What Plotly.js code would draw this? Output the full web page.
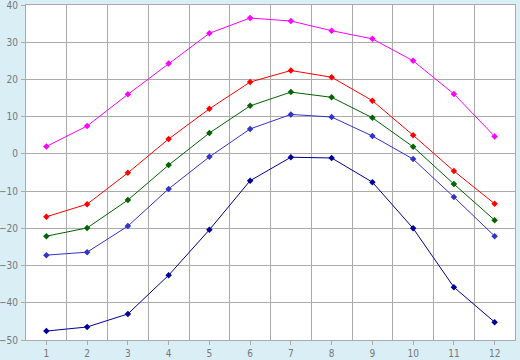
<!DOCTYPE html>
<html>
<head>
<meta charset="utf-8">
<script src="https://cdn.plot.ly/plotly-3.0.1.min.js"></script>
<style>html,body{margin:0;padding:0;background:#daeef6;}#chart{width:520px;height:360px;}</style>
</head>
<body>
<div id="chart"></div>
<script>
const months = [1,2,3,4,5,6,7,8,9,10,11,12];
const seriesMagenta = [2.0, 7.5, 16.0, 24.3, 32.4, 36.5, 35.7, 33.1, 30.9, 25.0, 16.1, 4.7];
const seriesRed = [-16.9, -13.5, -5.1, 4.0, 12.1, 19.3, 22.4, 20.6, 14.3, 5.0, -4.6, -13.4];
const seriesGreen = [-22.1, -19.9, -12.4, -3.0, 5.6, 12.9, 16.6, 15.2, 9.7, 1.9, -8.1, -17.8];
const seriesBlue = [-27.2, -26.4, -19.4, -9.4, -0.8, 6.7, 10.6, 9.9, 4.8, -1.4, -11.6, -22.1];
const seriesNavy = [-47.6, -46.5, -43.0, -32.6, -20.4, -7.2, -0.9, -1.1, -7.6, -20.0, -35.8, -45.2];

const defs = [
  {y: seriesMagenta, color: '#ff00ff'},
  {y: seriesRed, color: '#ff0000'},
  {y: seriesGreen, color: '#006400'},
  {y: seriesBlue, color: '#3333cc'},
  {y: seriesNavy, color: '#000099'}
];
const traces = defs.map(d => ({
  x: months, y: d.y, type: 'scatter', mode: 'lines+markers',
  line: {color: d.color, width: 1},
  marker: {color: d.color, size: 5, symbol: 'diamond'},
  showlegend: false, hoverinfo: 'skip'
}));

const layout = {
  width: 520, height: 360,
  margin: {l: 26, r: 5, t: 5, b: 20, pad: 0},
  paper_bgcolor: '#daeef6', plot_bgcolor: '#ffffff',
  font: {family: 'DejaVu Sans Condensed, DejaVu Sans, sans-serif', size: 10, color: '#777777'},
  xaxis: {
    range: [0.5, 12.5], tick0: 1, dtick: 1, showgrid: false, zeroline: false,
    ticks: 'outside', ticklen: 4, tickcolor: '#aaaaaa', ticklabeloverflow: 'allow',
    showline: true, mirror: true, linecolor: '#aaaaaa', linewidth: 1,
    minor: {tick0: 0.5, dtick: 1, showgrid: true, gridcolor: '#aaaaaa', gridwidth: 1, ticks: ''}
  },
  yaxis: {
    range: [-50, 40], dtick: 10, showgrid: true, gridcolor: '#aaaaaa', gridwidth: 1,
    zeroline: false, ticks: 'outside', ticklen: 4, tickcolor: '#aaaaaa',
    ticklabeloverflow: 'allow', ticklabelstandoff: 1,
    showline: true, mirror: true, linecolor: '#aaaaaa', linewidth: 1
  }
};
Plotly.newPlot('chart', traces, layout, {displayModeBar: false, staticPlot: true});
</script>
</body>
</html>
